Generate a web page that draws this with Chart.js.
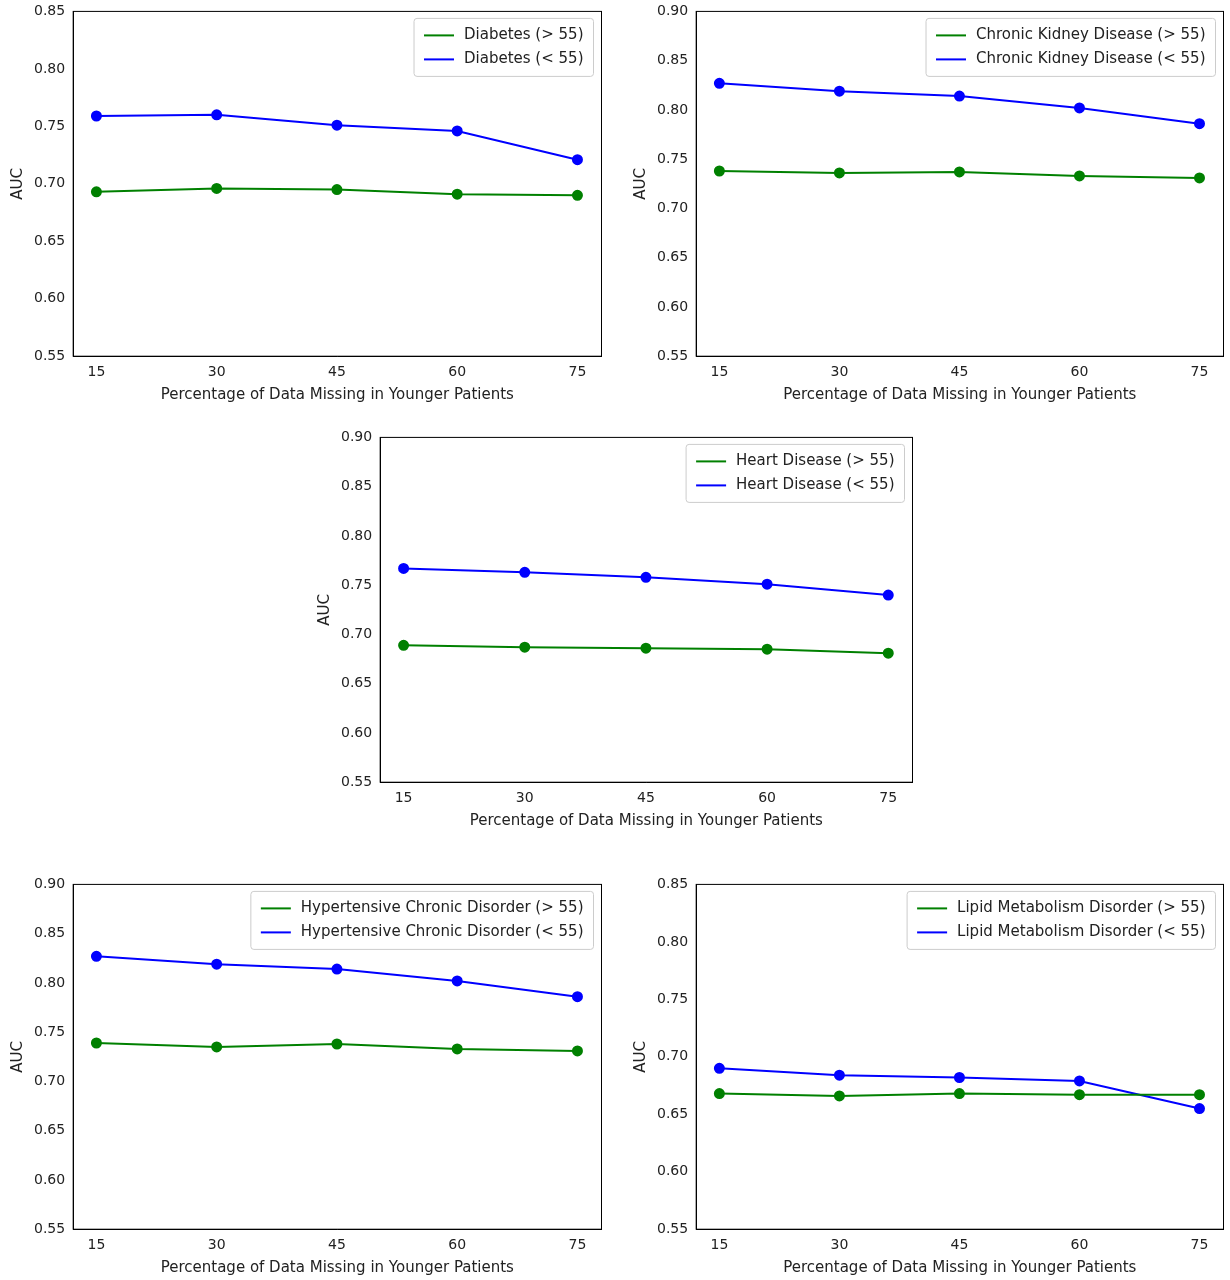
<!DOCTYPE html>
<html><head><meta charset="utf-8">
<script src="https://cdn.jsdelivr.net/npm/chart.js@4.4.0/dist/chart.umd.min.js"></script>
<style>
body{margin:0;background:#fff;width:1230px;height:1280px;position:relative;overflow:hidden}
.c{position:absolute}
</style></head><body>
<div class="c" style="left:5px;top:0;width:603px;height:408px"><canvas id="c1"></canvas></div>
<div class="c" style="left:628px;top:0;width:602px;height:408px"><canvas id="c2"></canvas></div>
<div class="c" style="left:312px;top:426px;width:607px;height:408px"><canvas id="c3"></canvas></div>
<div class="c" style="left:5px;top:873px;width:603px;height:408px"><canvas id="c4"></canvas></div>
<div class="c" style="left:628px;top:873px;width:602px;height:408px"><canvas id="c5"></canvas></div>
<script>
const xValues=[15,30,45,60,75];
const xTitle="Percentage of Data Missing in Younger Patients";
const diabetesOld=[0.693,0.696,0.695,0.691,0.690];
const diabetesYoung=[0.759,0.760,0.751,0.746,0.721];
const ckdOld=[0.738,0.736,0.737,0.733,0.731];
const ckdYoung=[0.827,0.819,0.814,0.802,0.786];
const heartOld=[0.689,0.687,0.686,0.685,0.681];
const heartYoung=[0.767,0.763,0.758,0.751,0.740];
const hypOld=[0.739,0.735,0.738,0.733,0.731];
const hypYoung=[0.827,0.819,0.814,0.802,0.786];
const lipidOld=[0.668,0.666,0.668,0.667,0.667];
const lipidYoung=[0.690,0.684,0.682,0.679,0.655];
const FONT="DejaVu Sans";
const legendPlugin={id:'inLegend',afterDraw(ch){
  const ctx=ch.ctx,a=ch.chartArea;ctx.save();ctx.font="15px "+FONT;
  const ds=ch.data.datasets;let w=0;ds.forEach(d=>w=Math.max(w,ctx.measureText(d.label).width));
  const bw=w+60,bh=ds.length*24+10,x0=a.right-bw-8,y0=a.top+7;
  ctx.fillStyle='rgba(255,255,255,0.9)';ctx.strokeStyle='#ccc';ctx.lineWidth=1;
  ctx.beginPath();ctx.roundRect(x0,y0,bw,bh,3);ctx.fill();ctx.stroke();
  ds.forEach((d,i)=>{const y=y0+17+i*24;ctx.strokeStyle=d.borderColor;ctx.lineWidth=2;
    ctx.beginPath();ctx.moveTo(x0+10,y);ctx.lineTo(x0+40,y);ctx.stroke();
    ctx.fillStyle='#222';ctx.textBaseline='middle';ctx.fillText(d.label,x0+50,y);});
  ctx.restore();}};
function make(id,name,old,young,ymax){
  new Chart(document.getElementById(id),{type:'line',
  data:{datasets:[
   {label:name+" (> 55)",data:xValues.map((x,i)=>({x,y:old[i]})),borderColor:'#008000',backgroundColor:'#008000',pointRadius:4.5,borderWidth:2},
   {label:name+" (< 55)",data:xValues.map((x,i)=>({x,y:young[i]})),borderColor:'#0000ff',backgroundColor:'#0000ff',pointRadius:4.5,borderWidth:2}]},
  options:{animation:false,responsive:true,maintainAspectRatio:false,
   layout:{padding:{top:3,right:4}},
   plugins:{legend:{display:false},tooltip:{enabled:false}},
   scales:{
    x:{type:'linear',min:12.1,max:78,afterBuildTicks(s){s.ticks=xValues.map(v=>({value:v}))},
      grid:{display:false,drawTicks:true,tickColor:'#000',tickLength:5},border:{color:'#000'},
      ticks:{color:'#222',font:{family:FONT,size:14}},
      title:{display:true,text:xTitle,color:'#222',font:{family:FONT,size:15},padding:{top:2}}},
    y:{min:0.55,max:ymax,afterBuildTicks(s){const t=[];for(let v=0.55;v<=ymax+1e-9;v+=0.05)t.push({value:+v.toFixed(2)});s.ticks=t;},
      grid:{display:false,tickColor:'#000',tickLength:5},border:{color:'#000'},
      ticks:{color:'#222',font:{family:FONT,size:14},callback:v=>v.toFixed(2)},
      title:{display:true,text:'AUC',color:'#222',font:{family:FONT,size:15}}}}},
  plugins:[legendPlugin,{id:'box',afterDraw(ch){const a=ch.chartArea,c=ch.ctx;c.save();c.strokeStyle='#000';c.lineWidth=1;c.strokeRect(a.left,a.top,a.right-a.left,a.bottom-a.top);c.restore();}}]});
}
make('c1','Diabetes',diabetesOld,diabetesYoung,0.85);
make('c2','Chronic Kidney Disease',ckdOld,ckdYoung,0.90);
make('c3','Heart Disease',heartOld,heartYoung,0.90);
make('c4','Hypertensive Chronic Disorder',hypOld,hypYoung,0.90);
make('c5','Lipid Metabolism Disorder',lipidOld,lipidYoung,0.85);
</script></body></html>
